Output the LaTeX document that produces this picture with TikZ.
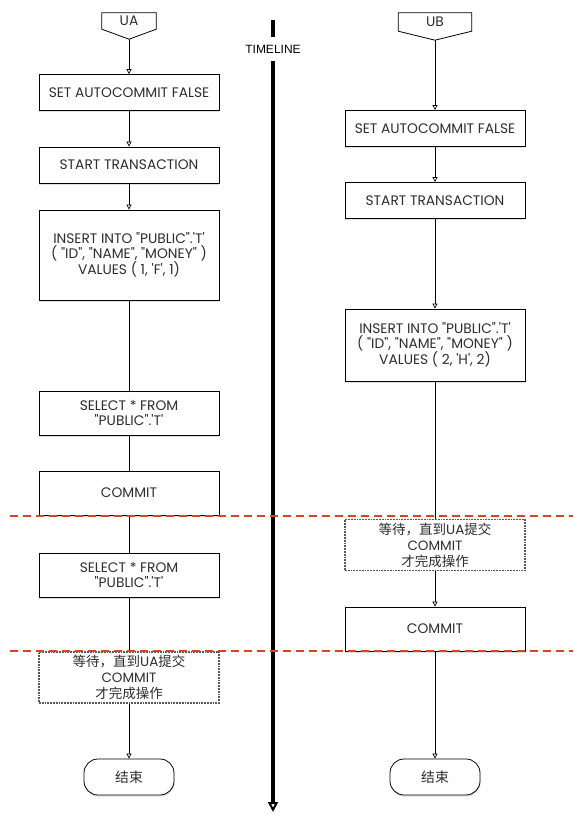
\documentclass[tikz,border=0pt]{standalone}
\usepackage{fontspec}
\setmainfont{Poppins}[Ligatures=TeXOff]
\newfontfamily\cjk{Noto Sans CJK SC}
\newfontfamily\tlfont{Liberation Sans}
\usetikzlibrary{arrows.meta,calc,shadows}

\definecolor{cutred}{HTML}{D9431E}
\definecolor{boxtext}{HTML}{2E2E2E}

\tikzset{
  basebox/.style={rectangle, fill=white, minimum width=180pt, align=center, text=boxtext, font=\fontsize{13.8}{15}\selectfont},
  stepbox/.style={basebox, draw, line width=0.8pt, drop shadow={shadow xshift=0.4pt, shadow yshift=-1.6pt, opacity=0.25}},
  waitbox/.style={basebox, draw=black!65, densely dotted, line width=1.8pt, inner sep=1pt, font=\fontsize{13.5}{16}\selectfont},
  endbox/.style={basebox, draw, line width=0.8pt, rounded corners=14pt, minimum width=90pt, minimum height=36pt, drop shadow={shadow xshift=0.4pt, shadow yshift=-1.6pt, opacity=0.25}},
  headbox/.style={rectangle, inner sep=0pt, text=boxtext, font=\fontsize{13.8}{15}\selectfont},
  flow/.style={line width=0.7pt, -{Triangle[open, length=5pt, width=5pt]}},
  link/.style={line width=0.7pt},
  timeline/.style={line width=3.5pt},
  cut/.style={draw=cutred, line width=1.3pt, dash pattern=on 8pt off 5pt}
}

\begin{document}
\begin{tikzpicture}[x=1pt, y=-1pt]
\useasboundingbox (0,0) rectangle (573,830);

\node[headbox, minimum width=54pt, minimum height=16pt] (ua) at (129,21) {UA};
\coordinate (ua tip) at ($(ua.south)+(0,10)$);
\draw[line width=0.8pt] (ua.north west) -- (ua.north east) -- (ua.south east) -- (ua tip) -- (ua.south west) -- cycle;
\node[stepbox, minimum height=36pt] (set1) at (129,92.5) {SET AUTOCOMMIT FALSE};
\node[stepbox, minimum height=36pt] (start1) at (129,165) {START TRANSACTION};
\node[stepbox, minimum height=90pt] (insert1) at (129,255) {INSERT INTO "PUBLIC".'T'\\( "ID", "NAME", "MONEY" )\\VALUES ( 1, 'F', 1)};
\node[stepbox, minimum height=44pt] (select1) at (129,413) {SELECT * FROM\\"PUBLIC".'T'};
\node[stepbox, minimum height=44pt] (commit1) at (129,493) {COMMIT};
\node[stepbox, minimum height=44pt] (select2) at (129,575) {SELECT * FROM\\"PUBLIC".'T'};
\node[waitbox, minimum height=51pt] (wait1) at (129,677.5) {{\cjk 等待，直到}UA{\cjk 提交}\\COMMIT\\{\cjk 才完成操作}};
\node[endbox] (end1) at (129,777) {\cjk 结束};

\node[headbox, minimum width=73pt, minimum height=18pt] (ub) at (435,22) {UB};
\coordinate (ub tip) at ($(ub.south)+(0,9)$);
\draw[line width=0.8pt] (ub.north west) -- (ub.north east) -- (ub.south east) -- (ub tip) -- (ub.south west) -- cycle;
\node[stepbox, minimum height=36pt] (set2) at (435,128.5) {SET AUTOCOMMIT FALSE};
\node[stepbox, minimum height=36pt] (start2) at (435,200.5) {START TRANSACTION};
\node[stepbox, minimum height=72pt] (insert2) at (435,345) {INSERT INTO "PUBLIC".'T'\\( "ID", "NAME", "MONEY" )\\VALUES ( 2, 'H', 2)};
\node[waitbox, minimum height=51pt] (wait2) at (435,545) {{\cjk 等待，直到}UA{\cjk 提交}\\COMMIT\\{\cjk 才完成操作}};
\node[stepbox, minimum height=44pt] (commit2) at (435,629) {COMMIT};
\node[endbox] (end2) at (435,777) {\cjk 结束};

\node[inner sep=0pt, minimum height=24pt, font=\tlfont\fontsize{12}{14}\selectfont] (tl) at (273,49) {TIMELINE};
\coordinate (tl top) at (273,20);
\coordinate (tl end) at (273,812);
\draw[timeline] (tl top) -- (tl.north);
\draw[timeline, -{Triangle[open, length=10pt, width=10pt, line width=2pt]}] (tl.south) -- (tl end);

\draw[flow] (ua tip) -- (set1);
\draw[flow] (set1) -- (start1);
\draw[flow] (start1) -- (insert1);
\draw[link] (insert1) -- (select1);
\draw[link] (select1) -- (commit1);
\draw[link] (commit1) -- (select2);
\draw[link] (select2) -- (wait1);
\draw[flow] (wait1) -- (end1);

\draw[flow] (ub tip) -- (set2);
\draw[flow] (set2) -- (start2);
\draw[flow] (start2) -- (insert2);
\draw[link] (insert2) -- (wait2);
\draw[flow] (wait2) -- (commit2);
\draw[flow] (commit2) -- (end2);

\draw[cut] (10,516) -- (573,516);
\draw[cut] (10,651) -- (573,651);
\end{tikzpicture}
\end{document}
